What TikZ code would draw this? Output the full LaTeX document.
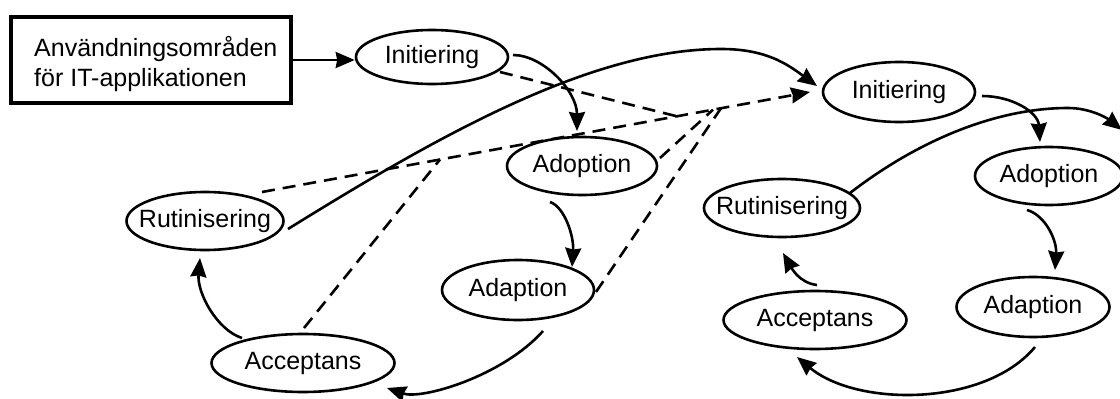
\documentclass[tikz,border=0pt]{standalone}
\usepackage{fontspec}
\setmainfont{Liberation Sans}
\usetikzlibrary{arrows.meta,shapes.geometric}
\begin{document}
\begin{tikzpicture}[x=1pt,y=-1pt,
  every node/.style={font=\fontsize{25pt}{30pt}\selectfont},
  stage/.style={ellipse, draw, line width=2.6pt, inner sep=0pt, text height=18pt, text depth=5pt},
  boxstyle/.style={draw, line width=3.2pt, inner sep=0pt, minimum width=280pt, minimum height=86pt},
  arr/.style={line width=2.6pt, -{Stealth[length=19pt,width=16pt,inset=1.5pt]}},
  dsh/.style={line width=2.6pt, dash pattern=on 13pt off 8pt}]
\useasboundingbox (0,0) rectangle (1120,399);

% box
\node[boxstyle] (box) at (151,60) {};
\node[anchor=base west, inner sep=0pt] (boxta) at (34,56) {Användningsområden};
\node[anchor=base west, inner sep=0pt] (boxtb) at (34,86) {för IT-applikationen};

% first cycle
\node[stage, minimum width=152pt, minimum height=54pt] (init1) at (432,57) {\makebox[0pt]{Initiering}};
\node[stage, minimum width=150pt, minimum height=58pt] (adop1) at (582,166) {\makebox[0pt]{Adoption}};
\node[stage, minimum width=152pt, minimum height=60pt] (adap1) at (518,290) {\makebox[0pt]{Adaption}};
\node[stage, minimum width=183pt, minimum height=58pt] (acc1) at (303,363) {\makebox[0pt]{Acceptans}};
\node[stage, minimum width=157pt, minimum height=58pt] (rut1) at (205,221) {\makebox[0pt]{Rutinisering}};

% second cycle
\node[stage, minimum width=152pt, minimum height=60pt] (init2) at (899,92) {\makebox[0pt]{Initiering}};
\node[stage, minimum width=148pt, minimum height=58pt] (adop2) at (1049,176) {\makebox[0pt]{Adoption}};
\node[stage, minimum width=153pt, minimum height=60pt] (adap2) at (1033,307) {\makebox[0pt]{Adaption}};
\node[stage, minimum width=183pt, minimum height=58pt] (acc2) at (815,320) {\makebox[0pt]{Acceptans}};
\node[stage, minimum width=156pt, minimum height=58pt] (rut2) at (782,208) {\makebox[0pt]{Rutinisering}};

% helper coordinates
\coordinate (peakA) at (721,49);
\coordinate (peakB) at (1068,108);
\coordinate (outB) at (1122,130);
\coordinate (j1) at (440,159.5);
\coordinate (j2) at (677,116.3);
\coordinate (j3) at (713,109.7);
\coordinate (j4) at (721,108.2);

% solid connectors, first cycle
\draw[arr] (box.east) -- (box.east -| init1.west);
\draw[arr] ([shift={(81,-2)}]init1.center) .. controls +(30,0) and +(0,-40) .. ([shift={(-5,-35)}]adop1.center);
\draw[arr] ([shift={(-32,36)}]adop1.center) .. controls +(15,5) and +(2,-30) .. ([shift={(54,-23)}]adap1.center);
\draw[arr] ([shift={(25,41)}]adap1.center) .. controls +(-40,45) and +(35,12) .. ([shift={(84,25)}]acc1.center);
\draw[arr] ([shift={(-61,-25)}]acc1.center) .. controls +(-25,-8) and +(-3,35) .. ([shift={(-5,37)}]rut1.center);
\draw[arr] ([shift={(83,8)}]rut1.center) .. controls +(150,-93) and +(-130,0) .. (peakA) .. controls +(45,0) and +(-30,-22) .. ([shift={(-82,-6)}]init2.center);

% solid connectors, second cycle
\draw[arr] ([shift={(83,4)}]init2.center) .. controls +(30,0) and +(-2,-30) .. ([shift={(-9,-34)}]adop2.center);
\draw[arr] ([shift={(-22,34)}]adop2.center) .. controls +(18,5) and +(2,-30) .. ([shift={(22,-37)}]adap2.center);
\draw[arr] ([shift={(2,40)}]adap2.center) .. controls +(-50,60) and +(60,50) .. ([shift={(-18,37)}]acc2.center);
\draw[arr] ([shift={(2,-35)}]acc2.center) .. controls +(-18,-2) and +(8,14) .. ([shift={(1,45)}]rut2.center);
\draw[arr] ([shift={(68,-15)}]rut2.center) .. controls +(70,-54) and +(-70,0) .. (peakB) .. controls +(22,0) and +(-15,-12) .. (outB);

% dashed connectors
\draw[dsh, arr] ([shift={(57,-29)}]rut1.center) -- ([shift={(-89,0)}]init2.center);
\draw[dsh] ([shift={(1,-35)}]acc1.center) -- (j1);
\draw[dsh] ([shift={(68,15)}]init1.center) -- (j2);
\draw[dsh] ([shift={(78,-8)}]adop1.center) -- (j3);
\draw[dsh] ([shift={(78,2)}]adap1.center) -- (j4);
\end{tikzpicture}
\end{document}
